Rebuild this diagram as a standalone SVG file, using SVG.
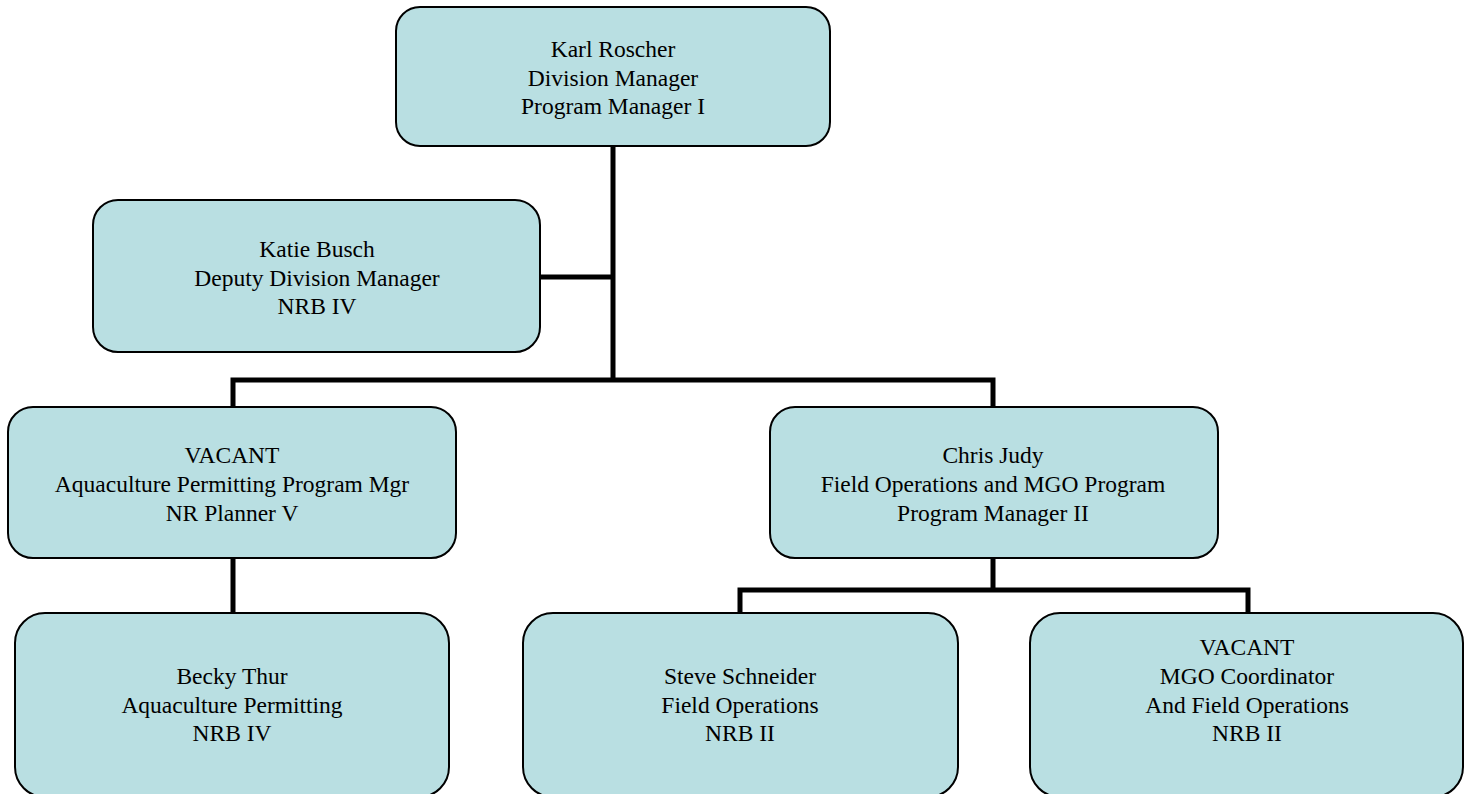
<svg xmlns="http://www.w3.org/2000/svg" width="1464" height="794" viewBox="0 0 1464 794">
<style>
.box{fill:#B9DFE2;stroke:#000;stroke-width:2}
.t{font-family:"Liberation Serif","Times New Roman",serif;font-size:23.5px;fill:#000;text-anchor:middle}
.c{fill:none;stroke:#000;stroke-width:5;stroke-linecap:square;stroke-linejoin:miter}
</style>
<rect width="1464" height="794" fill="#fff"/>
<g id="connectors">
<path class="c" d="M613 147 V380 M541 277 H613 M233 380 H993 M233 380 V406 M993 380 V406"/>
<path class="c" d="M233 559 V612"/>
<path class="c" d="M993 559 V590 M740 590 H1248 M740 590 V612 M1248 590 V612"/>
</g>
<g id="karl">
<rect class="box" x="396" y="7" width="434" height="139" rx="24"/>
<text class="t" x="613" y="57">Karl Roscher</text>
<text class="t" x="613" y="86">Division Manager</text>
<text class="t" x="613" y="114">Program Manager I</text>
</g>
<g id="katie">
<rect class="box" x="93" y="200" width="447" height="152" rx="25"/>
<text class="t" x="317" y="257">Katie Busch</text>
<text class="t" x="317" y="286">Deputy Division Manager</text>
<text class="t" x="317" y="314">NRB IV</text>
</g>
<g id="vacant-aqua">
<rect class="box" x="8" y="407" width="448" height="151" rx="25"/>
<text class="t" x="232" y="463">VACANT</text>
<text class="t" x="232" y="492">Aquaculture Permitting Program Mgr</text>
<text class="t" x="232" y="521">NR Planner V</text>
</g>
<g id="chris">
<rect class="box" x="770" y="407" width="448" height="151" rx="25"/>
<text class="t" x="993" y="463">Chris Judy</text>
<text class="t" x="993" y="492">Field Operations and MGO Program</text>
<text class="t" x="993" y="521">Program Manager II</text>
</g>
<g id="becky">
<rect class="box" x="15" y="613" width="434" height="184" rx="30"/>
<text class="t" x="232" y="684">Becky Thur</text>
<text class="t" x="232" y="713">Aquaculture Permitting</text>
<text class="t" x="232" y="741">NRB IV</text>
</g>
<g id="steve">
<rect class="box" x="523" y="613" width="435" height="184" rx="30"/>
<text class="t" x="740" y="684">Steve Schneider</text>
<text class="t" x="740" y="713">Field Operations</text>
<text class="t" x="740" y="741">NRB II</text>
</g>
<g id="vacant-mgo">
<rect class="box" x="1030" y="613" width="433" height="184" rx="30"/>
<text class="t" x="1247" y="655">VACANT</text>
<text class="t" x="1247" y="684">MGO Coordinator</text>
<text class="t" x="1247" y="713">And Field Operations</text>
<text class="t" x="1247" y="741">NRB II</text>
</g>
</svg>
